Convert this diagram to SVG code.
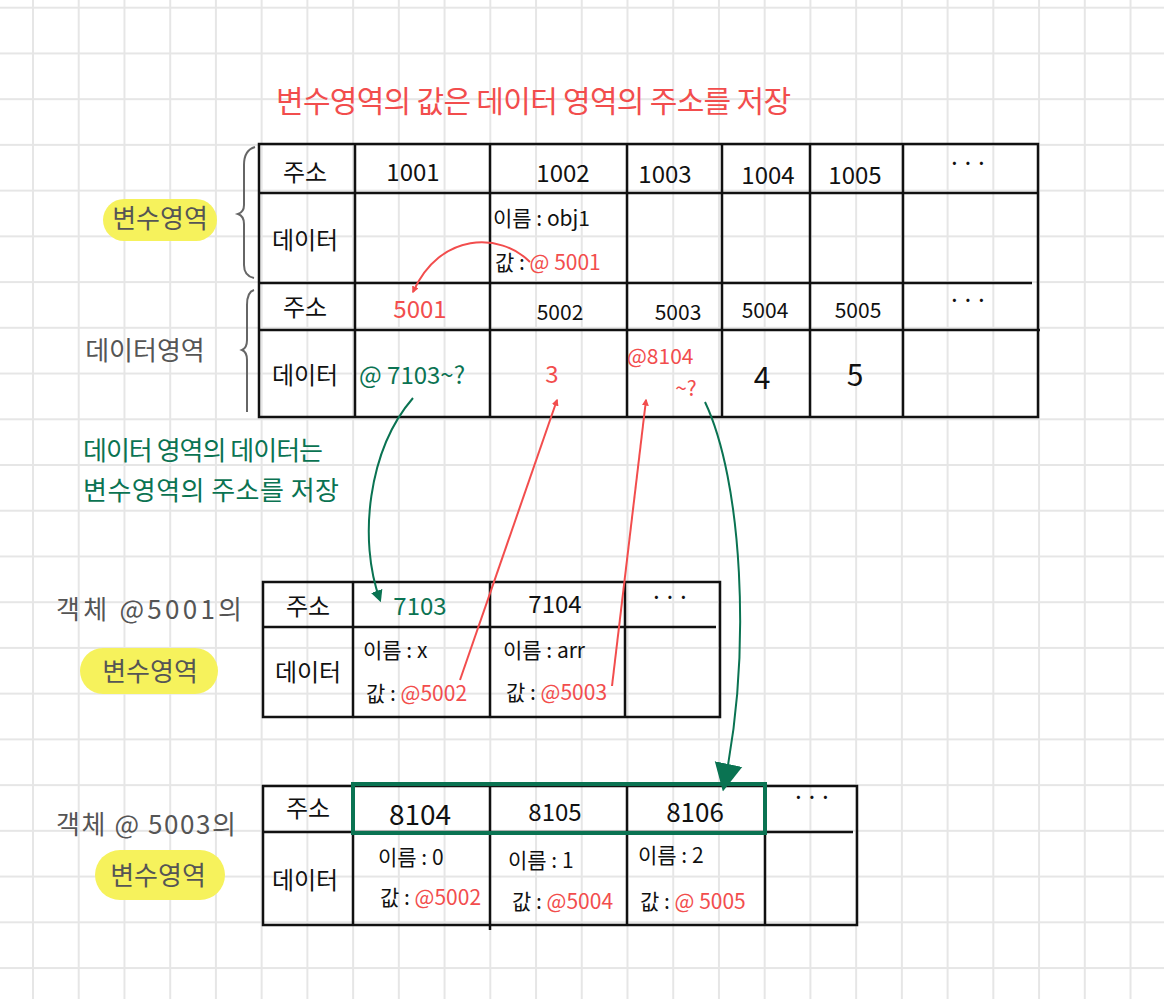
<svg xmlns="http://www.w3.org/2000/svg" width="1164" height="999" viewBox="0 0 1164 999">
<defs>
<pattern id="grid" patternUnits="userSpaceOnUse" x="10.135" y="-15.165" width="45.73" height="45.73">
<path d="M22.865 0V45.73M0 22.865H45.73" stroke="#e6e6e6" stroke-width="2" fill="none"/>
</pattern>
<marker id="ar" viewBox="0 0 10 10" refX="8" refY="5" markerWidth="7" markerHeight="7" orient="auto" markerUnits="userSpaceOnUse">
<path d="M0 0L10 5L0 10z" fill="#f24d4d"/>
</marker>
<marker id="ag" viewBox="0 0 10 10" refX="8" refY="5" markerWidth="12" markerHeight="12" orient="auto" markerUnits="userSpaceOnUse">
<path d="M0 0L10 5L0 10z" fill="#0a7352"/>
</marker>
<marker id="agb" viewBox="0 0 10 10" refX="8" refY="5" markerWidth="28" markerHeight="32" orient="auto" markerUnits="userSpaceOnUse">
<path d="M0 0L10 5L0 10z" fill="#0a7352"/>
</marker>
</defs>
<style>
text{font-family:"Noto Sans CJK KR","Noto Sans",sans-serif;font-size:24px;fill:#111}
.c{text-anchor:middle}
.r{fill:#f24d4d}
.g{fill:#0a7352}
.gr{fill:#555}
.s{font-size:21px}
.t{stroke:#111;stroke-width:2.5;fill:none}
.hl{fill:#f6f25c}
.br{stroke:#666;stroke-width:2;fill:none}
.cr{stroke:#f24d4d;stroke-width:2;fill:none}
.cg{stroke:#0a7352;stroke-width:2;fill:none}
</style>
<rect width="1164" height="999" fill="#fff"/>
<rect width="1164" height="999" fill="url(#grid)"/>

<text id="title" x="276" y="112" class="r" style="font-size:30px" textLength="515" lengthAdjust="spacing">변수영역의 값은 데이터 영역의 주소를 저장</text>

<g id="labels-left">
<rect class="hl" x="103" y="199" width="114" height="42" rx="21"/>
<text x="160" y="228" class="c gr" style="font-size:26px">변수영역</text>
<text x="145" y="360" class="c gr" style="font-size:26px">데이터영역</text>
<path class="br" d="M255 147Q244 150 244 165L244 205Q244 212 238 214Q244 216 244 224L244 265Q244 276 254 278"/>
<path class="br" d="M254 290Q247 292 247 305L247 340Q247 348 242 350Q247 352 247 360L247 412"/>
</g>

<g id="table-top">
<path class="t" d="M259 144H1038V417H259Z M259 193H1038 M259 283H1032 M259 330H1040 M355 144V417 M490 144V417 M627 144V417 M722 144V417 M810 144V417 M903 144V417"/>
<text x="305" y="181" class="c">주소</text>
<text x="413" y="181" class="c">1001</text>
<text x="563" y="182" class="c">1002</text>
<text x="665" y="183" class="c">1003</text>
<text x="768" y="184" class="c">1004</text>
<text x="855" y="184" class="c">1005</text>
<text x="968" y="172" class="c">···</text>
<text x="305" y="249" class="c">데이터</text>
<text x="493" y="226" class="s">이름 : obj1</text>
<text x="495" y="270" class="s">값 : <tspan class="r">@ 5001</tspan></text>
<text x="305" y="316" class="c">주소</text>
<text x="420" y="318" class="c r">5001</text>
<text x="560" y="320" class="c s">5002</text>
<text x="678" y="320" class="c s">5003</text>
<text x="765" y="318" class="c s">5004</text>
<text x="858" y="318" class="c s">5005</text>
<text x="968" y="309" class="c">···</text>
<text x="305" y="384" class="c">데이터</text>
<text x="359" y="384" class="g">@ 7103~?</text>
<text x="552" y="383" class="c r">3</text>
<text x="627" y="364" class="r s">@8104</text>
<text x="686" y="396" class="c r s">~?</text>
<text x="762" y="389" class="c" style="font-size:30px">4</text>
<text x="855" y="386" class="c" style="font-size:30px">5</text>
</g>

<g id="note-green">
<text x="83" y="460" class="g" style="font-size:26px" textLength="240" lengthAdjust="spacing">데이터 영역의 데이터는</text>
<text x="83" y="500" class="g" style="font-size:26px" textLength="256" lengthAdjust="spacing">변수영역의 주소를 저장</text>
</g>

<g id="labels-obj5001">
<text x="56" y="619" class="gr" style="font-size:26px" textLength="186" lengthAdjust="spacing">객체 @5001의</text>
<rect class="hl" x="80" y="648" width="138" height="46" rx="23"/>
<text x="150" y="681" class="c gr" style="font-size:26px">변수영역</text>
</g>

<g id="table-obj5001">
<path class="t" d="M263 582H720V717H263Z M263 627H716 M353 582V717 M490 582V717 M625 582V717"/>
<text x="308" y="615" class="c">주소</text>
<text x="420" y="615" class="c g">7103</text>
<text x="555" y="613" class="c">7104</text>
<text x="670" y="606" class="c">···</text>
<text x="308" y="681" class="c">데이터</text>
<text x="363" y="658" class="s">이름 : x</text>
<text x="366" y="701" class="s">값 : <tspan class="r">@5002</tspan></text>
<text x="503" y="658" class="s">이름 : arr</text>
<text x="506" y="700" class="s">값 : <tspan class="r">@5003</tspan></text>
</g>

<g id="labels-obj5003">
<text x="56" y="834" class="gr" style="font-size:26px" textLength="180" lengthAdjust="spacing">객체 @ 5003의</text>
<rect class="hl" x="95" y="850" width="130" height="50" rx="25"/>
<text x="158" y="885" class="c gr" style="font-size:26px">변수영역</text>
</g>

<g id="table-obj5003">
<path class="t" d="M263 786H857V925H263Z M263 832H853 M353 786V925 M490 786V930 M627 786V925 M765 786V925"/>
<rect x="353" y="784" width="412" height="49" fill="none" stroke="#0a7352" stroke-width="4"/>
<text x="308" y="817" class="c">주소</text>
<text x="420" y="825" class="c" style="font-size:28px">8104</text>
<text x="555" y="821" class="c">8105</text>
<text x="695" y="822" class="c" style="font-size:26px">8106</text>
<text x="812" y="806" class="c">···</text>
<text x="305" y="889" class="c">데이터</text>
<text x="378" y="865" class="s">이름 : 0</text>
<text x="380" y="905" class="s">값 : <tspan class="r">@5002</tspan></text>
<text x="508" y="868" class="s">이름 : 1</text>
<text x="512" y="909" class="s">값 : <tspan class="r">@5004</tspan></text>
<text x="638" y="863" class="s">이름 : 2</text>
<text x="640" y="909" class="s">값 : <tspan class="r">@ 5005</tspan></text>
</g>

<g id="connectors">
<path class="cr" d="M530 262C500 232 440 232 413 292" marker-end="url(#ar)"/>
<path class="cg" d="M413 398C368 450 358 540 380 600" marker-end="url(#ag)"/>
<path class="cr" d="M460 680L557 400" marker-end="url(#ar)"/>
<path class="cr" d="M612 686L646 400" marker-end="url(#ar)"/>
<path class="cg" d="M705 402C742 480 752 650 724 786" marker-end="url(#agb)"/>
</g>
</svg>
